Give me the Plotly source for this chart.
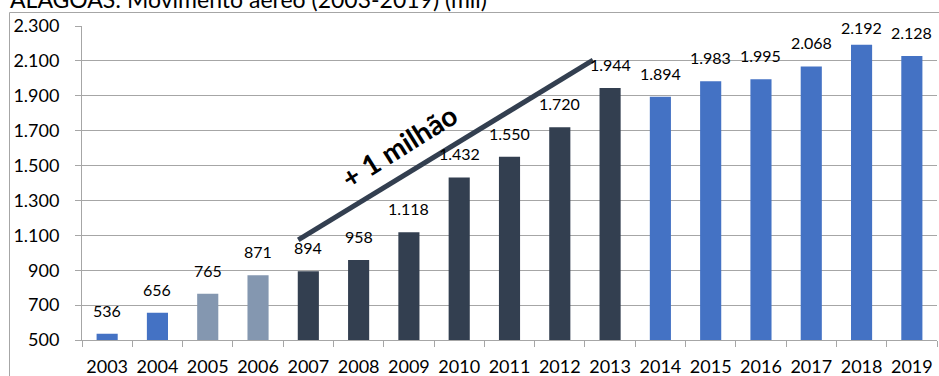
import plotly.graph_objects as go

years = [str(y) for y in range(2003, 2020)]
values = [536, 656, 765, 871, 894, 958, 1118, 1432, 1550, 1720, 1944,
          1894, 1983, 1995, 2068, 2192, 2128]
y_ticks = list(range(500, 2301, 200))
title_text = "ALAGOAS: Movimento aéreo (2003-2019) (mil)"
trend_text = "+ 1 milhão"

BLUE = "#4472C4"
GRAYBLUE = "#8497B0"
DARK = "#333F50"
GRID = "#A6A6A6"
FONT = "Lato"

def bar_color(y):
    y = int(y)
    if 2005 <= y <= 2006:
        return GRAYBLUE
    if 2007 <= y <= 2013:
        return DARK
    return BLUE

colors = [bar_color(y) for y in years]

def fmt(v):
    return f"{v:,}".replace(",", ".")

W, H = 939, 376
L, R, T, B = 82, 2, 26, 36
PW, PH = W - L - R, H - T - B
YMIN, YMAX = 500, 2300

def pxx(px):
    return (px - L) / PW

def pxy(py):
    return 1 - (py - T) / PH

def val_to_py(v):
    return T + (YMAX - v) / (YMAX - YMIN) * PH

fig = go.Figure()
fig.add_trace(go.Bar(x=years, y=values, marker=dict(color=colors, line=dict(width=0)),
                     width=0.42, hoverinfo="x+y"))

annotations = []
for i, (yr, v) in enumerate(zip(years, values)):
    top = val_to_py(v)
    shift = min(12, top - 19 - 20)
    annotations.append(dict(x=i, y=v, xref="x", yref="y", text=fmt(v), showarrow=False,
                            yanchor="bottom", xanchor="center", yshift=shift,
                            font=dict(family=FONT, size=16, color="#000000")))

# title (partially cut at top, as in the reference)
annotations.append(dict(x=pxx(8), y=pxy(15), xref="paper", yref="paper", text=title_text,
                        showarrow=False, xanchor="left", yanchor="bottom",
                        font=dict(family=FONT, size=23, color="#000000")))

i07 = years.index("2007")
i13 = years.index("2013")
x0, y0 = i07 - 0.2, values[i07] + 180
x1, y1 = i13 - 0.34, values[i13] + 160
annotations.append(dict(x=i07 + 1.8, y=values[i07] + 720, xref="x", yref="y", text="<b>" + trend_text + "</b>",
                        showarrow=False, textangle=-32,
                        font=dict(family=FONT, size=28, color="#000000")))

shapes = [
    dict(type="line", xref="x", yref="y", x0=x0, y0=y0, x1=x1, y1=y1,
         line=dict(color=DARK, width=5)),
    dict(type="line", xref="paper", yref="paper", x0=pxx(9.5), x1=pxx(9.5), y0=pxy(12.5), y1=pxy(400),
         line=dict(color=GRID, width=1)),
    dict(type="line", xref="paper", yref="paper", x0=pxx(9.5), x1=pxx(960), y0=pxy(12.5), y1=pxy(12.5),
         line=dict(color=GRID, width=1)),
]

fig.update_layout(
    width=W, height=H,
    margin=dict(l=L, r=R, t=T, b=B, pad=0, autoexpand=False),
    paper_bgcolor="white", plot_bgcolor="white",
    separators=",.",
    showlegend=False,
    annotations=annotations,
    shapes=shapes,
    bargap=0.58,
)
fig.update_xaxes(type="category", range=[-0.5, len(years) - 0.5], showgrid=False,
                 showline=True, linecolor=GRID, linewidth=1, automargin=False,
                 ticks="outside", tickson="boundaries", ticklen=6, tickcolor=GRID,
                 ticklabelstandoff=10, tickangle=0,
                 tickfont=dict(family=FONT, size=18, color="#000000"))
fig.update_yaxes(range=[YMIN, YMAX], tickvals=y_ticks, ticktext=[fmt(v) for v in y_ticks],
                 showgrid=True, gridcolor=GRID, gridwidth=1, automargin=False,
                 showline=True, linecolor=GRID, linewidth=1, zeroline=False,
                 ticks="outside", ticklen=6, tickcolor=GRID,
                 ticklabelstandoff=12,
                 tickfont=dict(family=FONT, size=18, color="#000000"))

fig.write_html("out.html")
